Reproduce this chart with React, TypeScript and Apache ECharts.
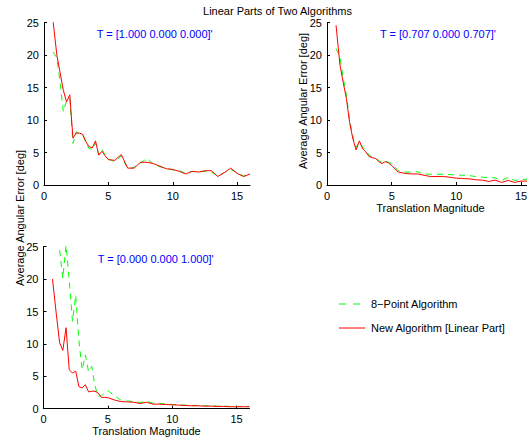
import React, { useEffect, useRef } from "react";
import * as echarts from "echarts";

const xs = [0.7, 1.0, 1.25, 1.5, 1.75, 2.0, 2.25, 2.5, 2.75, 3.0, 3.25, 3.5, 3.75, 4.0, 4.25, 4.5, 4.75, 5.0, 5.5, 6.0, 6.5, 7.0, 7.5, 8.0, 8.5, 9.0, 9.5, 10.0, 10.5, 11.0, 11.5, 12.0, 12.5, 13.0, 13.5, 14.0, 14.5, 15.0, 15.5, 16.0];

// Panel 1: T = [1 0 0]
const eightPt1 = [20.5, 19.6, 15.8, 11.3, 13.0, 13.4, 6.4, 8.2, 7.8, 7.8, 6.5, 5.6, 5.5, 6.5, 4.7, 5.5, 4.6, 4.0, 3.6, 4.5, 2.5, 2.7, 3.4, 4.1, 3.2, 2.8, 2.6, 2.3, 2.2, 1.8, 2.1, 2.0, 2.1, 2.0, 1.4, 1.9, 2.4, 1.9, 1.4, 1.5];
const newAlg1 = [25.3, 20.0, 17.3, 14.6, 12.8, 13.9, 7.2, 8.0, 8.0, 7.8, 6.7, 5.9, 5.7, 6.8, 4.6, 5.2, 4.5, 3.9, 3.8, 4.7, 2.6, 2.6, 3.5, 3.5, 3.3, 2.9, 2.5, 2.4, 2.1, 1.7, 2.1, 2.0, 2.2, 2.2, 1.3, 1.9, 2.6, 1.8, 1.3, 1.7];

// Panel 2: T = [0.707 0 0.707]
const eightPt2 = [21.0, 19.8, 16.5, 13.8, 10.0, 7.5, 5.8, 6.6, 5.9, 5.3, 4.6, 4.3, 4.2, 3.8, 3.5, 3.7, 3.5, 3.3, 2.2, 2.0, 2.0, 2.05, 1.7, 1.65, 1.65, 1.65, 1.6, 1.55, 1.5, 1.45, 1.3, 1.2, 1.15, 1.1, 0.7, 1.2, 0.7, 0.85, 0.9, 0.9];
const newAlg2 = [24.6, 18.5, 15.8, 13.3, 9.6, 7.1, 5.4, 6.8, 5.6, 5.1, 4.4, 4.2, 4.1, 3.6, 3.3, 3.6, 3.4, 3.0, 2.0, 1.8, 1.7, 1.7, 1.5, 1.3, 1.3, 1.3, 1.2, 1.05, 1.0, 0.95, 0.8, 0.75, 0.55, 0.75, 0.4, 0.7, 0.4, 0.6, 0.6, 0.65];

// Panel 3: T = [0 0 1]
const eightPt3 = [38.0, 30.0, 24.5, 20.1, 25.2, 19.8, 13.5, 17.5, 10.5, 6.0, 8.3, 5.7, 6.5, 3.5, 1.9, 2.0, 2.4, 2.8, 2.0, 1.35, 1.2, 1.1, 0.95, 1.15, 0.85, 0.8, 0.75, 0.65, 0.6, 0.55, 0.5, 0.5, 0.45, 0.45, 0.4, 0.4, 0.35, 0.35, 0.35, 0.35];
const newAlg3 = [20.0, 14.5, 10.2, 9.0, 12.5, 6.0, 5.5, 5.8, 3.4, 3.2, 3.7, 2.6, 2.7, 2.7, 2.4, 1.75, 1.75, 1.7, 1.35, 1.1, 1.05, 1.0, 0.8, 1.0, 0.7, 0.7, 0.65, 0.6, 0.55, 0.5, 0.45, 0.45, 0.4, 0.4, 0.35, 0.35, 0.3, 0.3, 0.3, 0.3];

const xTicks = [0, 5, 10, 15];
const panelLabels = ["T = [1.000 0.000 0.000]'", "T = [0.707 0.000 0.707]'", "T = [0.000 0.000 1.000]'"];
const seriesNames = ["8\u2212Point Algorithm", "New Algorithm [Linear Part]"];
const titleText = "Linear Parts of Two Algorithms";
const yLabel = "Average Angular Error [deg]";
const xLabel = "Translation Magnitude";

const FONT = '"Liberation Sans", Arial, Helvetica, sans-serif';
const GREEN = "#00ff00";
const RED = "#ff0000";
const DASH = [6, 5];

export default function App() {
  const ref = useRef<HTMLDivElement>(null);
  useEffect(() => {
    if (!ref.current) return;
    const chart = echarts.init(ref.current, null, { renderer: "svg" });
    const grids = [
      { left: 44, top: 22.7, width: 206, height: 162.3 },
      { left: 327, top: 22.7, width: 207, height: 162.3 },
      { left: 43.5, top: 246.7, width: 206, height: 162 },
    ].map((g) => ({ ...g, outerBoundsMode: "none", containLabel: false }));

    const axisCommon = {
      axisLine: { show: true, lineStyle: { color: "#000", width: 1 } },
      axisTick: { show: true, inside: true, length: 3, lineStyle: { color: "#000" } },
      splitLine: { show: false },
      axisLabel: { color: "#000", fontSize: 11, fontFamily: FONT },
    };

    const xAxes = [0, 1, 2].map((i) => ({
      ...axisCommon,
      type: "value",
      gridIndex: i,
      min: 0,
      max: 16,
      interval: 5,
      axisTick: { ...axisCommon.axisTick, customValues: xTicks },
      axisLabel: { ...axisCommon.axisLabel, margin: 5, customValues: xTicks },
      name: i === 0 ? "" : xLabel,
      nameLocation: "middle",
      nameGap: i === 1 ? 17 : 16,
      nameTextStyle: { color: "#000", fontSize: 11, fontFamily: FONT },
    }));
    const yAxes = [0, 1, 2].map((i) => ({
      ...axisCommon,
      type: "value",
      gridIndex: i,
      min: 0,
      max: 25,
      interval: 5,
      axisLabel: { ...axisCommon.axisLabel, margin: 5 },
    }));

    const panels = [
      [eightPt1, newAlg1],
      [eightPt2, newAlg2],
      [eightPt3, newAlg3],
    ];
    const series: any[] = [];
    panels.forEach((p, i) => {
      series.push({
        type: "line",
        name: seriesNames[0],
        xAxisIndex: i,
        yAxisIndex: i,
        symbol: "none",
        clip: true,
        lineStyle: { color: GREEN, width: 1, type: DASH },
        itemStyle: { color: GREEN },
        data: xs.map((x, k) => [x, p[0][k]]),
      });
      series.push({
        type: "line",
        name: seriesNames[1],
        xAxisIndex: i,
        yAxisIndex: i,
        symbol: "none",
        clip: true,
        lineStyle: { color: RED, width: 1 },
        itemStyle: { color: RED },
        data: xs.map((x, k) => [x, p[1][k]]),
      });
    });

    const txt = (text: string, x: number, y: number, extra: any = {}) => ({
      type: "text",
      x,
      y,
      silent: true,
      rotation: extra.rotation || 0,
      style: {
        text,
        fill: extra.fill || "#000",
        font: `${extra.size || 11}px ${FONT}`,
        align: extra.align || "left",
        verticalAlign: "middle",
        textAlign: extra.align || "left",
        textVerticalAlign: "middle",
      },
    });

    chart.setOption({
      animation: false,
      backgroundColor: "#fff",
      grid: grids,
      xAxis: xAxes,
      yAxis: yAxes,
      series,
      graphic: [
        txt(titleText, 277.5, 10.5, { align: "center" }),
        txt(panelLabels[0], 96.7, 34.3, { fill: "#0000ff" }),
        txt(panelLabels[1], 380, 34.3, { fill: "#0000ff" }),
        txt(panelLabels[2], 97.7, 259.3, { fill: "#0000ff" }),
        txt(yLabel, 20, 218, { align: "center", rotation: Math.PI / 2 }),
        txt(yLabel, 303, 101, { align: "center", rotation: Math.PI / 2 }),
        {
          type: "line",
          silent: true,
          shape: { x1: 339, y1: 304, x2: 360, y2: 304 },
          style: { stroke: GREEN, lineWidth: 1, lineDash: [7, 7] },
        },
        txt(seriesNames[0], 371, 304),
        {
          type: "line",
          silent: true,
          shape: { x1: 339, y1: 328, x2: 365, y2: 328 },
          style: { stroke: RED, lineWidth: 1 },
        },
        txt(seriesNames[1], 371, 328),
      ],
    });
    return () => chart.dispose();
  }, []);
  return (
    <div
      ref={ref}
      style={{ position: "fixed", left: 0, top: 0, width: 527, height: 438, background: "#fff" }}
    />
  );
}
